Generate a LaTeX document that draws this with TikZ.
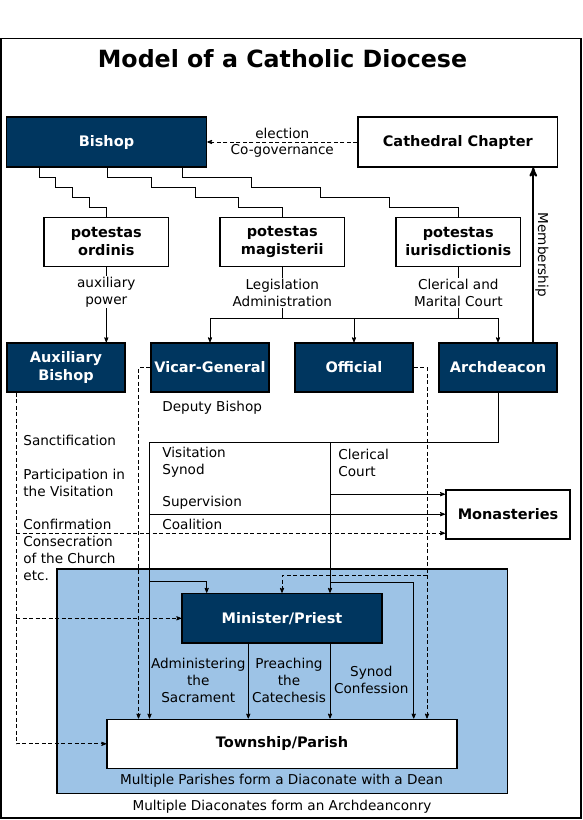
\documentclass[tikz,border=0pt]{standalone}
\usepackage{fontspec}
\setmainfont{DejaVu Sans}
\usetikzlibrary{arrows}
\definecolor{navy}{RGB}{0,54,95}
\definecolor{paleblue}{RGB}{157,195,230}

\begin{document}
\begin{tikzpicture}[x=1pt,y=-1pt,->,>=stealth',line width=0.8pt,node distance=176pt,
        box/.style={rectangle,draw,line width=1.6pt,inner sep=0pt,align=center,
          font=\fontsize{14.5}{18}\selectfont\bfseries},
        dark node/.style={box,fill=navy,text=white,minimum width=118pt,minimum height=49pt},
        white node/.style={box,fill=white,minimum width=124.5pt,minimum height=49pt},
        txt/.style={font=\fontsize{13.6}{17}\selectfont,inner sep=1pt,align=center},
        ltxt/.style={txt,align=left,anchor=west},
        broken/.style={dash pattern=on 4pt off 2.5pt}]

        \useasboundingbox (0,0) rectangle (582,820);
        \draw[-,line width=1.5pt] (1,38.5) rectangle (581,818);
        \draw[-,line width=1.6pt,fill=paleblue] (57,569) rectangle (507.5,793.5);

        \node[font=\fontsize{23.7}{28}\selectfont\bfseries] (title) at (282.5,59) {Model of a Catholic Diocese};

        \node[dark node,minimum width=200pt,minimum height=49.5pt] (bishop) at (106.5,142) {Bishop};
        \node[white node,minimum width=199.5pt,minimum height=49.5pt] (chapter) at (457.8,142) {Cathedral Chapter};
        \node[white node] (ordinis) at (106.3,242) {potestas\\ordinis};
        \node[white node] (magisterii) [right of=ordinis] {potestas\\magisterii};
        \node[white node] (iuris) [right of=magisterii] {potestas\\iurisdictionis};
        \node[dark node] (aux) at (66,367.5) {Auxiliary\\Bishop};
        \node[dark node] (vicar) [node distance=144pt,right of=aux] {Vicar-General};
        \node[dark node] (official) [node distance=144pt,right of=vicar] {Official};
        \node[dark node] (archdeacon) [node distance=144pt,right of=official] {Archdeacon};
        \node[white node] (monasteries) at (508,514.2) {Monasteries};
        \node[dark node,minimum width=200pt,minimum height=49.5pt] (minister) at (282,618.3) {Minister/Priest};
        \node[white node,minimum width=350pt] (township) at (282,743.8) {Township/Parish};

        % bishop and chapter
        \path (chapter.west) edge[broken] node[txt,above,inner sep=2.5pt] {election} node[txt,below,inner sep=2.5pt] {Co-governance} (bishop.east);

        % three powers
        \draw[-] (39,167) |- (55.75,177) |- (72.5,187) |- (89.25,197) |- (106.3,207) -- (ordinis.north);
        \draw[-] (107,167) |- (151,177) |- (195,187) |- (238.5,197) |- (282.3,207) -- (magisterii.north);
        \draw[-] (182,167) |- (251,177) |- (320,187) |- (389,197) |- (458.3,207) -- (iuris.north);

        \draw (ordinis.south) -- node[txt,fill=white,pos=0.33] {auxiliary\\power} (ordinis.south |- aux.north);
        \coordinate (bar) at (0,318.3);
        \draw[-] (magisterii.south) -- node[txt,fill=white] {Legislation\\Administration} (magisterii.south |- bar);
        \draw[-] (iuris.south) -- node[txt,fill=white] {Clerical and\\Marital Court} (iuris.south |- bar);
        \draw[-] (vicar.north |- bar) -- (archdeacon.north |- bar);
        \draw (vicar.north |- bar) -- (vicar.north);
        \draw (official.north |- bar) -- (official.north);
        \draw (archdeacon.north |- bar) -- (archdeacon.north);

        % membership
        \coordinate (m) at (533.3,0);
        \draw[line width=2pt] (archdeacon.north -| m) -- node[txt,midway,anchor=south,rotate=-90] {Membership} (chapter.south -| m);

        % vertical lines
        \coordinate (xa) at (16,0);
        \coordinate (xv) at (138.5,0);
        \coordinate (xp) at (206.7,0);
        \coordinate (xm) at (248.3,0);
        \coordinate (xs) at (413.7,0);
        \coordinate (xo) at (427,0);
        \coordinate (a1) at (149.5,442.7);
        \coordinate (a2) at (149.5,581.7);
        \coordinate (c1) at (330,442.7);
        \coordinate (c2) at (330,582.7);
        \coordinate (o1) at (427,575);
        \coordinate (mon1) at ([yshift=20pt]monasteries.west);
        \coordinate (mon2) at ([yshift=-19pt]monasteries.west);

        % vicar-general and official
        \draw[broken] (vicar.west) -| (xv |- township.north);
        \draw[broken] (official.east) -| (xo |- township.north);
        \draw[broken] (o1) -| (minister.north);

        % archdeacon
        \draw (archdeacon.south) |- (a1) -- (a1 |- township.north);
        \draw (c1) -- (c1 |- minister.north);
        \draw (mon1 -| c1) -- (mon1);
        \draw (monasteries.west -| a1) -- (monasteries.west);
        \draw (a2) -| (xp |- minister.north);
        \draw (c2) -| (xs |- township.north);

        % auxiliary bishop
        \draw[broken] (aux.south -| xa) |- (township.west);
        \draw[broken] (xa |- minister.west) -- (minister.west);
        \draw[broken] (mon2 -| xa) -- (mon2);

        % minister to township
        \draw (xm |- minister.south) -- (xm |- township.north);
        \draw (c1 |- minister.south) -- (c1 |- township.north);

        \node[ltxt] (sanct) at (22,440) {Sanctification};
        \node[ltxt] (partic) at (22,482.5) {Participation in\\the Visitation};
        \node[ltxt] (confirm) at (22,524) {Confirmation};
        \node[ltxt] (consec) at (22,558) {Consecration\\of the Church\\etc.};
        \node[ltxt] (deputy) at (161,408) {Deputy Bishop};
        \node[ltxt] (visit) at (161,462.5) {Visitation\\Synod};
        \node[ltxt] (superv) at (161,502.5) {Supervision};
        \node[ltxt] (coal) at (161,524) {Coalition};
        \node[ltxt] (court) at (337,462.5) {Clerical\\Court};
        \node[txt] (sacr) at (198.3,680.5) {Administering\\the\\Sacrament};
        \node[txt] (preach) at (289,680.5) {Preaching\\the\\Catechesis};
        \node[txt] (synod) at (371.3,680) {Synod\\Confession};
        \node[txt] (dean) at (281.5,781) {Multiple Parishes form a Diaconate with a Dean};
        \node[txt] (archd) at (282,807) {Multiple Diaconates form an Archdeanconry};
      \end{tikzpicture}
\end{document}
